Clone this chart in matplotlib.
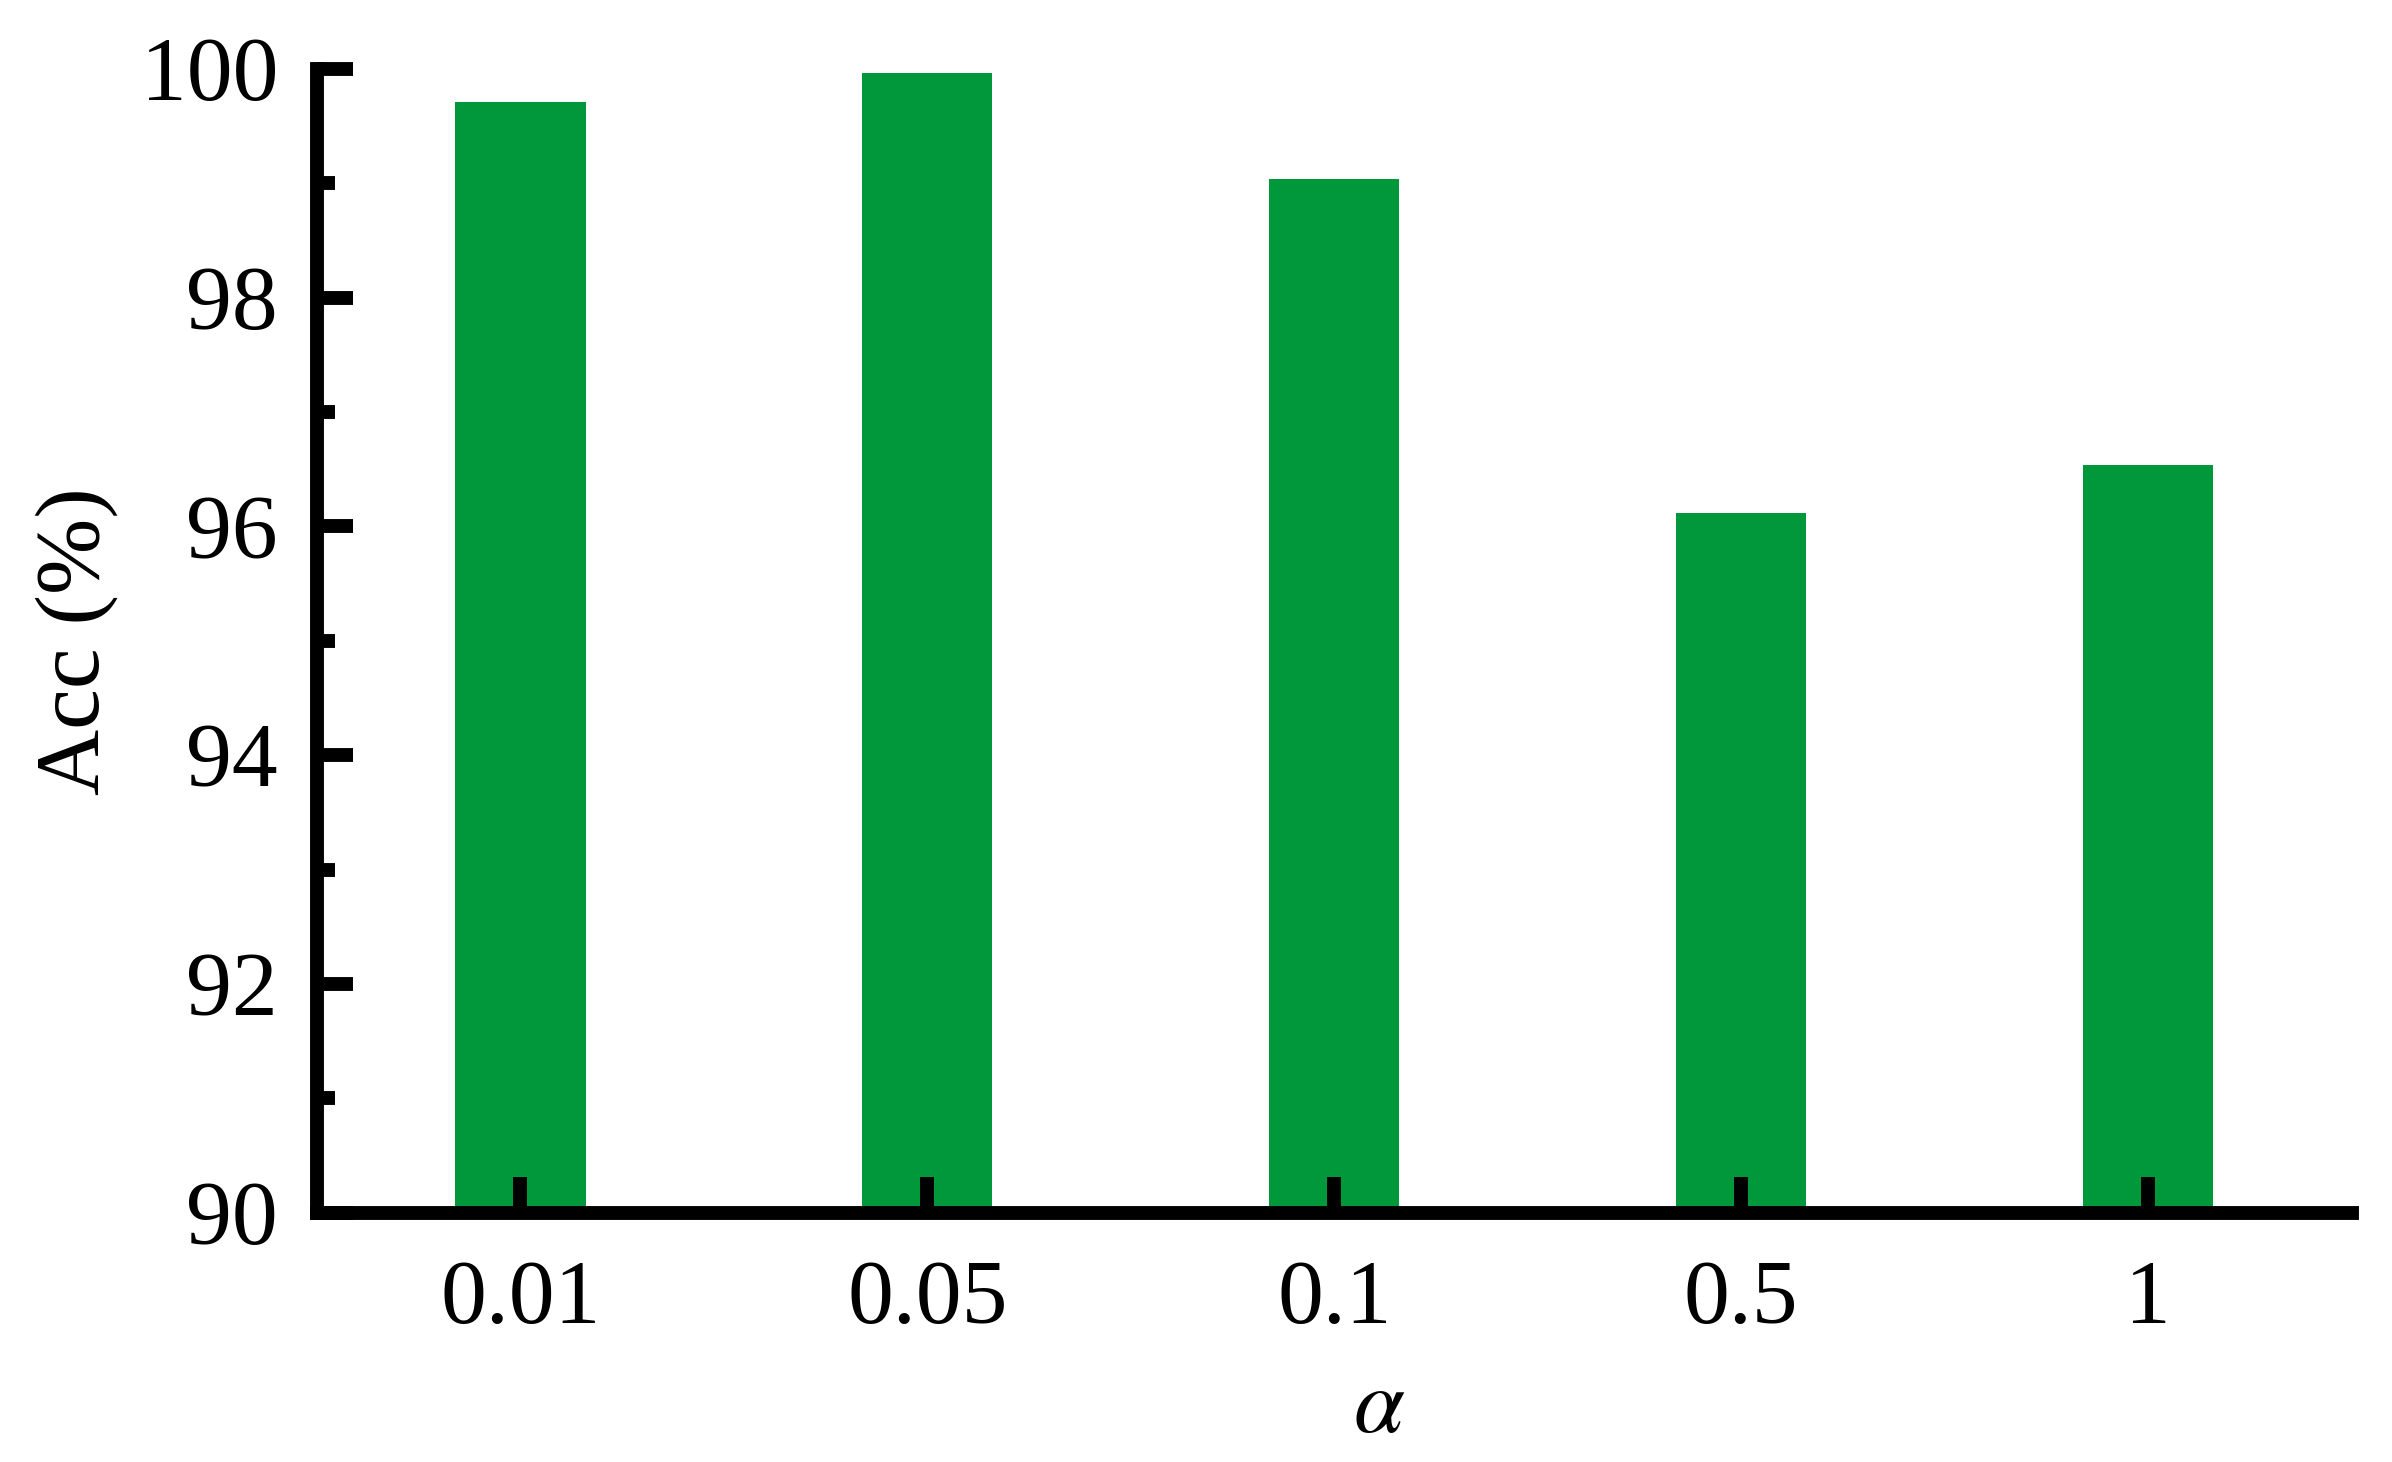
import matplotlib
matplotlib.use('Agg')
import matplotlib.pyplot as plt
from matplotlib.ticker import MultipleLocator
import numpy as np

# data
alphas = ['0.01', '0.05', '0.1', '0.5', '1']
acc = [99.71, 99.96, 99.04, 96.12, 96.54]

plt.rcParams['font.family'] = ['Liberation Serif', 'DejaVu Serif']
plt.rcParams['mathtext.fontset'] = 'stix'

fig = plt.figure(figsize=[23.92, 14.62], dpi=100)
ax = fig.add_axes([0.1325, 0.1705, 0.8506, 0.7825])

x = np.arange(len(alphas))
ax.bar(x, acc, width=0.32, color='#00983A', zorder=1)

ax.set_xlim(-0.5, 4.5)
ax.set_ylim(90, 100)
ax.set_xticks(x)
ax.set_xticklabels(alphas)
ax.yaxis.set_major_locator(MultipleLocator(2))
ax.yaxis.set_minor_locator(MultipleLocator(1))

for s in ['top', 'right']:
    ax.spines[s].set_visible(False)
for s in ['left', 'bottom']:
    ax.spines[s].set_linewidth(10)
    ax.spines[s].set_capstyle('projecting')

ax.tick_params(axis='both', which='major', direction='in', length=26, width=10,
               labelsize=66, pad=28)
ax.tick_params(axis='x', which='major', pad=34)
ax.tick_params(axis='y', which='minor', direction='in', length=13, width=10)
ax.tick_params(axis='x', which='minor', length=0)

ax.set_ylabel('Acc (%)', fontsize=66, labelpad=16)
ax.set_xlabel(r'$\alpha$', fontsize=66, labelpad=19, x=0.522)

fig.savefig('out.png', dpi=100)
